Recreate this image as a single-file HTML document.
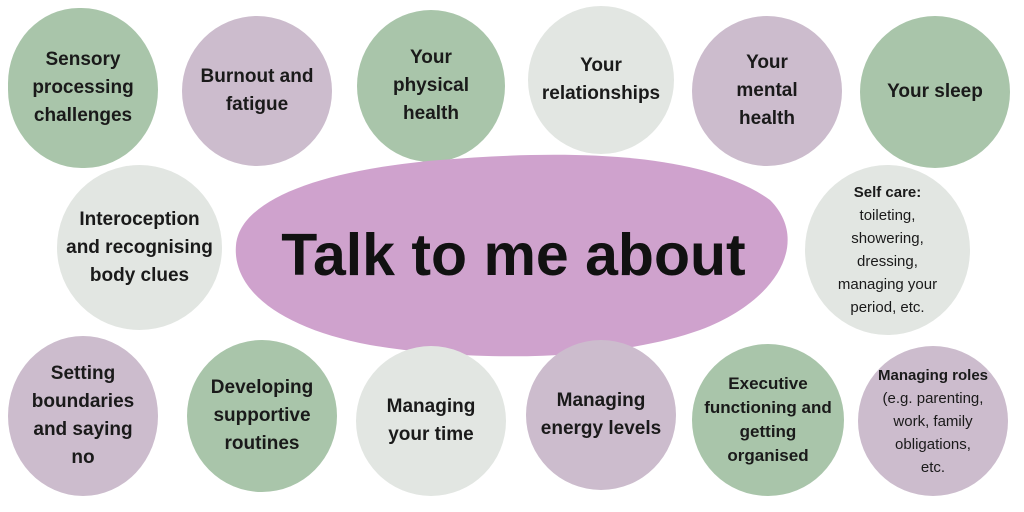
<!DOCTYPE html>
<html><head><meta charset="utf-8"><style>
html,body{margin:0;padding:0;background:#fff;width:1024px;height:512px;overflow:hidden;position:relative;font-family:"Liberation Sans",sans-serif;}
.b{position:absolute;border-radius:50%;display:flex;align-items:center;justify-content:center;text-align:center;font-weight:bold;font-size:19px;line-height:28px;color:#1a1a1a;}
.g{background:#a9c5aa}.m{background:#ccbccd}.l{background:#e2e6e2}
.s{font-size:15px;line-height:23px;font-weight:normal}
</style></head><body>
<div class="b g" style="left:8px;top:8px;width:150px;height:160px;border-radius:48% 52% 50% 50%">Sensory<br>processing<br>challenges</div>
<div class="b m" style="left:182px;top:16px;width:150px;height:150px">Burnout and<br>fatigue</div>
<div class="b g" style="left:357px;top:10px;width:148px;height:152px">Your<br>physical<br>health</div>
<div class="b l" style="left:528px;top:6px;width:146px;height:148px">Your<br>relationships</div>
<div class="b m" style="left:692px;top:16px;width:150px;height:150px">Your<br>mental<br>health</div>
<div class="b g" style="left:860px;top:16px;width:150px;height:152px">Your sleep</div>
<div class="b l" style="left:57px;top:165px;width:165px;height:165px">Interoception<br>and recognising<br>body clues</div>
<svg style="position:absolute;left:0;top:0" width="1024" height="512"><path d="M236,245 C240,200 320,170 440,160 C560,150 700,150 770,200 C810,240 780,300 700,330 C610,362 470,362 370,345 C280,328 232,290 236,245 Z" fill="#cfa2cd"/></svg>
<div style="position:absolute;left:236px;top:215px;width:555px;text-align:center;font-weight:bold;font-size:59px;line-height:80px;color:#111">Talk to me about</div>
<div class="b l" style="left:805px;top:165px;width:165px;height:170px"><div class="s"><b>Self care:</b><br>toileting,<br>showering,<br>dressing,<br>managing your<br>period, etc.</div></div>
<div class="b m" style="left:8px;top:336px;width:150px;height:160px">Setting<br>boundaries<br>and saying<br>no</div>
<div class="b g" style="left:187px;top:340px;width:150px;height:152px">Developing<br>supportive<br>routines</div>
<div class="b l" style="left:356px;top:346px;width:150px;height:150px">Managing<br>your time</div>
<div class="b m" style="left:526px;top:340px;width:150px;height:150px">Managing<br>energy levels</div>
<div class="b g" style="left:692px;top:344px;width:152px;height:152px;font-size:17px;line-height:24px">Executive<br>functioning and<br>getting<br>organised</div>
<div class="b m" style="left:858px;top:346px;width:150px;height:150px"><div class="s"><b>Managing roles</b><br>(e.g. parenting,<br>work, family<br>obligations,<br>etc.</div></div>
</body></html>
